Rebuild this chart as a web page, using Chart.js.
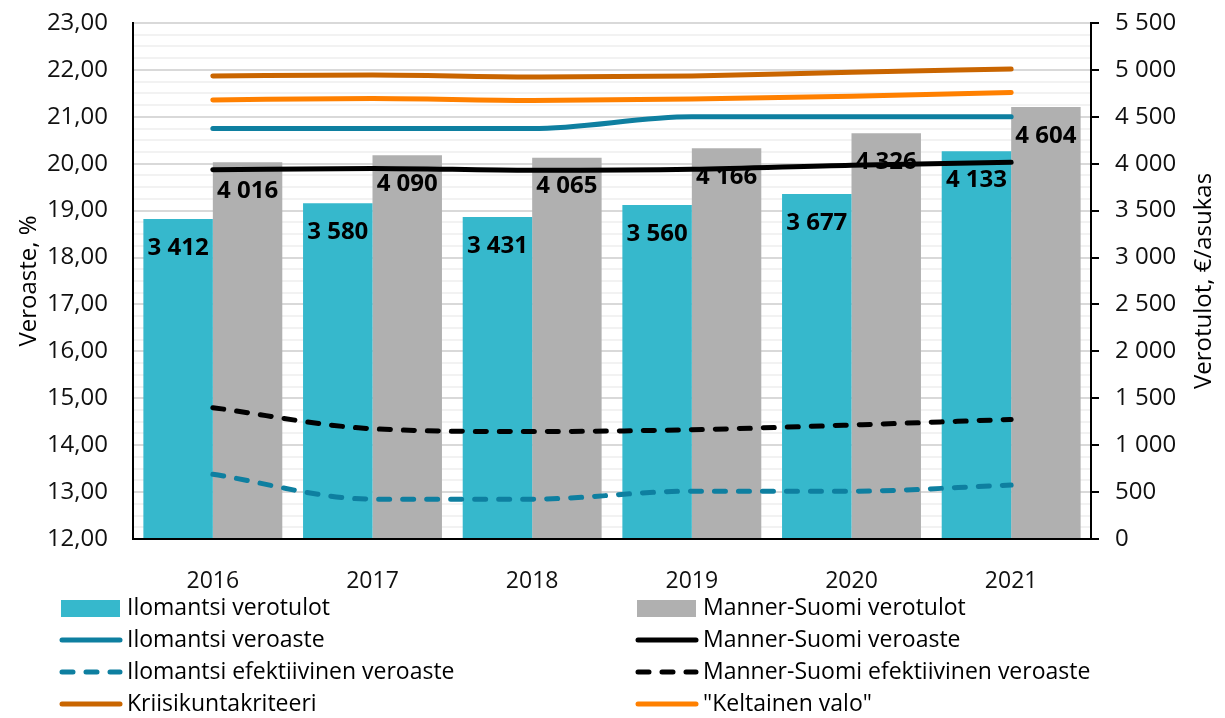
<!DOCTYPE html>
<html>
<head>
<meta charset="utf-8">
<script src="https://cdn.jsdelivr.net/npm/chart.js@4.4.1/dist/chart.umd.min.js"></script>
<style>
  html, body { margin: 0; padding: 0; background: #fff; }
  #wrap { width: 1225px; height: 718px; }
</style>
</head>
<body>
<div id="wrap"><canvas id="chart" width="1225" height="718"></canvas></div>
<script>
// vuodet
const years = ["2016", "2017", "2018", "2019", "2020", "2021"];

// verotulot, €/asukas (oikea akseli)
const ilomantsiVerotulot = [3412, 3580, 3431, 3560, 3677, 4133];
const mannerVerotulot = [4016, 4090, 4065, 4166, 4326, 4604];

// veroasteet, % (vasen akseli)
const ilomantsiVeroaste = [20.75, 20.75, 20.75, 21.0, 21.0, 21.0];
const mannerVeroaste = [19.87, 19.90, 19.86, 19.88, 19.97, 20.03];
const ilomantsiEfektiivinen = [13.38, 12.85, 12.85, 13.02, 13.02, 13.15];
const mannerEfektiivinen = [14.80, 14.35, 14.29, 14.33, 14.43, 14.55];
const kriisikunta = [21.87, 21.89, 21.85, 21.87, 21.95, 22.02];
const keltainenValo = [21.36, 21.39, 21.35, 21.38, 21.44, 21.52];

const FONT = "'Open Sans', 'Noto Sans', sans-serif";

const spaced = v => String(v).replace(/\B(?=(\d{3})+(?!\d))/g, " ");

// palkkien arvot palkin yläpäähän
const barLabels = {
  id: "barLabels",
  afterDatasetsDraw(chart) {
    const ctx = chart.ctx;
    ctx.save();
    ctx.font = "bold 24px " + FONT;
    ctx.fillStyle = "#000";
    ctx.textAlign = "center";
    ctx.textBaseline = "middle";
    [0, 1].forEach(di => {
      const meta = chart.getDatasetMeta(di);
      meta.data.forEach((bar, i) => {
        ctx.fillText(spaced(chart.data.datasets[di].data[i]), bar.x, bar.y + 29);
      });
    });
    ctx.restore();
  }
};

// akselien otsikot + selite kahteen sarakkeeseen
const extras = {
  id: "extras",
  afterDraw(chart) {
    const ctx = chart.ctx;
    const ca = chart.chartArea;
    const midY = (ca.top + ca.bottom) / 2;
    ctx.save();
    ctx.font = "24px " + FONT;
    ctx.fillStyle = "#000";
    ctx.textAlign = "center";
    ctx.textBaseline = "middle";
    ctx.translate(29, midY);
    ctx.rotate(-Math.PI / 2);
    ctx.fillText("Veroaste, %", 0, 0);
    ctx.restore();

    ctx.save();
    ctx.font = "24px " + FONT;
    ctx.fillStyle = "#000";
    ctx.textAlign = "center";
    ctx.textBaseline = "middle";
    ctx.translate(1204, midY);
    ctx.rotate(-Math.PI / 2);
    ctx.fillText("Verotulot, €/asukas", 0, 0);
    ctx.restore();

    const colX = [60, 636];
    ctx.save();
    ctx.font = "23px " + FONT;
    ctx.textBaseline = "middle";
    chart.data.datasets.forEach((ds, i) => {
      const x = colX[i % 2];
      const y = 608 + Math.floor(i / 2) * 32;
      if (ds.type === "bar") {
        ctx.fillStyle = ds.backgroundColor;
        ctx.fillRect(x + 1, y - 8, 59, 17);
      } else {
        ctx.strokeStyle = ds.borderColor;
        ctx.lineWidth = 5;
        ctx.lineCap = "round";
        ctx.setLineDash(ds.borderDash || []);
        ctx.beginPath();
        ctx.moveTo(x + 2, y);
        ctx.lineTo(x + 60, y);
        ctx.stroke();
        ctx.setLineDash([]);
      }
      ctx.fillStyle = "#000";
      ctx.textAlign = "left";
      ctx.fillText(ds.label, x + 67, y);
    });
    ctx.restore();
  }
};

const lineDs = (label, data, color, dash) => ({
  type: "line",
  label: label,
  data: data,
  yAxisID: "y",
  borderColor: color,
  backgroundColor: color,
  borderWidth: 5,
  borderDash: dash,
  borderCapStyle: "round",
  pointRadius: 0,
  cubicInterpolationMode: "monotone",
  fill: false,
  order: 0
});

new Chart(document.getElementById("chart"), {
  data: {
    labels: years,
    datasets: [
      { type: "bar", label: "Ilomantsi verotulot", data: ilomantsiVerotulot, yAxisID: "y1",
        backgroundColor: "#36B8CC", order: 1 },
      { type: "bar", label: "Manner-Suomi verotulot", data: mannerVerotulot, yAxisID: "y1",
        backgroundColor: "#B0B0B0", order: 1 },
      lineDs("Ilomantsi veroaste", ilomantsiVeroaste, "#0E7FA0"),
      lineDs("Manner-Suomi veroaste", mannerVeroaste, "#000000"),
      lineDs("Ilomantsi efektiivinen veroaste", ilomantsiEfektiivinen, "#0E7FA0", [11, 13]),
      lineDs("Manner-Suomi efektiivinen veroaste", mannerEfektiivinen, "#000000", [11, 13]),
      lineDs("Kriisikuntakriteeri", kriisikunta, "#C96500"),
      lineDs("\"Keltainen valo\"", keltainenValo, "#FF8000")
    ]
  },
  options: {
    responsive: false,
    animation: false,
    layout: { padding: { top: 23, bottom: 119, left: 0, right: 0 } },
    datasets: { bar: { categoryPercentage: 0.87, barPercentage: 1.0 } },
    plugins: { legend: { display: false }, tooltip: { enabled: false } },
    scales: {
      x: {
        grid: { display: false },
        border: { color: "#000", width: 2 },
        ticks: { color: "#111", font: { family: FONT, size: 23 }, padding: 21 },
        afterFit(s) { s.height = 60; s.paddingLeft = 0; s.paddingRight = 0; }
      },
      y: {
        position: "left",
        min: 12, max: 23,
        grid: {
          drawTicks: false,
          lineWidth: 2,
          color: c => Number.isInteger(c.tick.value) ? "#D9D9D9" : "#F2F2F2"
        },
        border: { color: "#000", width: 2 },
        ticks: {
          stepSize: 0.25,
          autoSkip: false,
          maxTicksLimit: 100,
          padding: 25,
          color: "#111",
          font: { family: FONT, size: 24 },
          callback: v => Number.isInteger(v) ? v.toFixed(2).replace(".", ",") : ""
        },
        afterFit(s) { s.width = 133; s.paddingTop = 0; s.paddingBottom = 0; }
      },
      y1: {
        position: "right",
        min: 0, max: 5500,
        grid: { drawOnChartArea: false, drawTicks: true, tickLength: 8, color: "#000", lineWidth: 2 },
        border: { color: "#000", width: 2 },
        ticks: {
          stepSize: 500,
          autoSkip: false,
          maxTicksLimit: 20,
          padding: 16,
          color: "#111",
          font: { family: FONT, size: 24 },
          callback: v => spaced(v)
        },
        afterFit(s) { s.width = 134; s.paddingTop = 0; s.paddingBottom = 0; }
      }
    }
  },
  plugins: [barLabels, extras]
});
</script>
</body>
</html>
